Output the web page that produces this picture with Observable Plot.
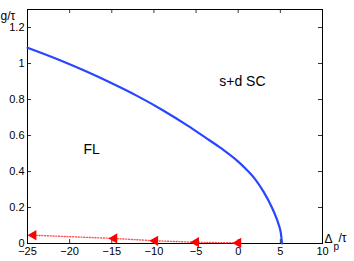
<!DOCTYPE html>
<html>
<head>
<meta charset="utf-8">
<script src="https://cdn.jsdelivr.net/npm/d3@7"></script>
<script src="https://cdn.jsdelivr.net/npm/@observablehq/plot@0.6"></script>
<style>
  html, body { margin: 0; padding: 0; background: #fff; }
  #chart { width: 354px; height: 261px; }
</style>
</head>
<body>
<div id="chart"></div>
<script>
// Phase boundary (blue)
const boundaryDelta = [-25, -21, -18, -15, -12, -9, -6, -4, -2, 0, 1, 2, 3, 4, 4.5, 4.8, 5.05, 5.2];
const boundaryG     = [1.087, 1.015, 0.955, 0.89, 0.82, 0.742, 0.655, 0.592, 0.528, 0.455, 0.41, 0.358, 0.288, 0.2, 0.145, 0.105, 0.06, 0.0];

// Red dotted series with left triangles
const redDelta = [-24.3, -14.7, -9.85, -5.0, 0.0];
const redG     = [0.046, 0.028, 0.015, 0.007, 0.003];

// Ticks
const xTicks = [-25, -20, -15, -10, -5, 0, 5, 10];
const yTicks = [0, 0.2, 0.4, 0.6, 0.8, 1, 1.2];

// Region labels
const regionLabels = [
  {x: 0.5, y: 0.9, text: "s+d SC"},
  {x: -17.4, y: 0.524, text: "FL"}
];

const xDomain = [-25, 10];
const yDomain = [0, 1.3];

const blue = boundaryDelta.map((d, i) => ({x: d, y: boundaryG[i]}));
const red = redDelta.map((d, i) => ({x: d, y: redG[i]}));

const tx = 0.022; // inward tick length (y units)
const ty = 0.48;  // inward tick length (x units)

const chart = Plot.plot({
  width: 354,
  height: 261,
  marginLeft: 27,
  marginRight: 32,
  marginTop: 9,
  marginBottom: 18,
  style: {fontFamily: "'Liberation Sans', Arial, sans-serif", fontSize: "11px", color: "#000", background: "#fff"},
  x: {domain: xDomain},
  y: {domain: yDomain},
  marks: [
    Plot.axisX(xTicks, {tickSize: 0, tickPadding: 4, tickFormat: d => d < 0 ? "\u2212" + Math.abs(d) : String(d), label: null, fontSize: 11}),
    Plot.axisY(yTicks, {tickSize: 0, tickPadding: 3, tickFormat: d => String(d), label: null, fontSize: 11}),
    // inward ticks
    Plot.ruleX(xTicks, {x: d => d, y1: yDomain[0], y2: yDomain[0] + tx, stroke: "#000", strokeWidth: 0.8}),
    Plot.ruleX(xTicks, {x: d => d, y1: yDomain[1] - tx, y2: yDomain[1], stroke: "#000", strokeWidth: 0.8}),
    Plot.ruleY(yTicks, {y: d => d, x1: xDomain[0], x2: xDomain[0] + ty, stroke: "#000", strokeWidth: 0.8}),
    Plot.ruleY(yTicks, {y: d => d, x1: xDomain[1] - ty, x2: xDomain[1], stroke: "#000", strokeWidth: 0.8}),
    Plot.frame({stroke: "#000", strokeWidth: 1}),
    // blue boundary
    Plot.line(blue, {x: "x", y: "y", stroke: "#2846ff", strokeWidth: 2.2, curve: "monotone-x"}),
    // red dotted
    Plot.line(red, {x: "x", y: "y", stroke: "#ff3030", strokeWidth: 1.4, strokeDasharray: "1,1.8", strokeOpacity: 0.85}),
    Plot.dot(red, {x: "x", y: "y", symbol: "triangle", rotate: -90, r: 3.8, fill: "#ff0000", stroke: "none"}),
    // region labels
    Plot.text(regionLabels, {x: "x", y: "y", text: "text", fontSize: 14, fill: "#000"}),
    // axis labels
    Plot.text(["g/\u03c4"], {frameAnchor: "top-left", dx: -27, dy: 10, textAnchor: "start", lineAnchor: "bottom", fontSize: 12, fill: "#000"}),
    Plot.text(["\u0394"], {frameAnchor: "bottom-right", dx: 2, dy: -1, textAnchor: "start", lineAnchor: "bottom", fontSize: 12, fill: "#000"}),
    Plot.text(["p"], {frameAnchor: "bottom-right", dx: 11, dy: 6, textAnchor: "start", lineAnchor: "bottom", fontSize: 10, fill: "#000"}),
    Plot.text(["/\u03c4"], {frameAnchor: "bottom-right", dx: 16, dy: -2, textAnchor: "start", lineAnchor: "bottom", fontSize: 12, fill: "#000"})
  ]
});
document.getElementById("chart").appendChild(chart);
</script>
</body>
</html>
